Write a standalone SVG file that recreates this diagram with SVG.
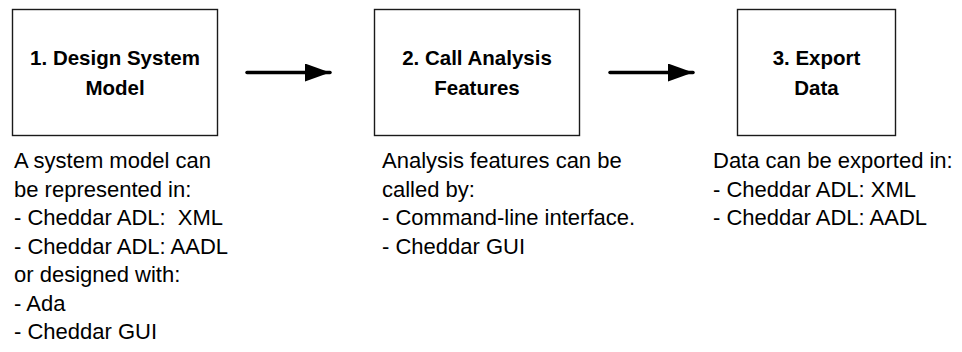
<svg xmlns="http://www.w3.org/2000/svg" width="962" height="352" viewBox="0 0 962 352">
<style>
.box{fill:#fff;stroke:#1a1a1a;stroke-width:1.4}
.title{font-family:"Liberation Sans",Arial,sans-serif;font-weight:bold;font-size:20.5px;fill:#000;text-anchor:middle}
.body{font-family:"Liberation Sans",Arial,sans-serif;font-size:22px;fill:#000}
.conn{stroke:#000;stroke-width:3.5;stroke-linecap:round;fill:none}
</style>
<defs>
<marker id="ah" markerUnits="userSpaceOnUse" markerWidth="26" markerHeight="18" refX="25" refY="9" orient="auto">
<path d="M0,0 L25,9 L0,18 Z" fill="#000"/>
</marker>
</defs>
<rect width="962" height="352" fill="#fff"/>
<g id="node1">
<rect class="box" x="12.5" y="9.5" width="205" height="126"/>
<text class="title" x="115" y="65">1. Design System</text>
<text class="title" x="115" y="95">Model</text>
<text class="body" x="14" y="168">A system model can</text>
<text class="body" x="14" y="196.5">be represented in:</text>
<text class="body" x="14" y="225" xml:space="preserve">- Cheddar ADL:  XML</text>
<text class="body" x="14" y="253.5">- Cheddar ADL: AADL</text>
<text class="body" x="14" y="282">or designed with:</text>
<text class="body" x="14" y="310.5">- Ada</text>
<text class="body" x="14" y="339">- Cheddar GUI</text>
</g>
<g id="node2">
<rect class="box" x="374.5" y="9.5" width="205" height="126"/>
<text class="title" x="477" y="65">2. Call Analysis</text>
<text class="title" x="477" y="95">Features</text>
<text class="body" x="382" y="168">Analysis features can be</text>
<text class="body" x="382" y="196.5">called by:</text>
<text class="body" x="382" y="225">- Command-line interface.</text>
<text class="body" x="382" y="253.5">- Cheddar GUI</text>
</g>
<g id="node3">
<rect class="box" x="737.5" y="9.5" width="158" height="126"/>
<text class="title" x="816.5" y="65">3. Export</text>
<text class="title" x="816.5" y="95">Data</text>
<text class="body" x="713" y="168">Data can be exported in:</text>
<text class="body" x="713" y="196.5">- Cheddar ADL: XML</text>
<text class="body" x="713" y="225">- Cheddar ADL: AADL</text>
</g>
<g id="connectors">
<line class="conn" x1="247" y1="72.5" x2="330" y2="72.5" marker-end="url(#ah)"/>
<line class="conn" x1="610" y1="72.5" x2="693" y2="72.5" marker-end="url(#ah)"/>
</g>
</svg>
